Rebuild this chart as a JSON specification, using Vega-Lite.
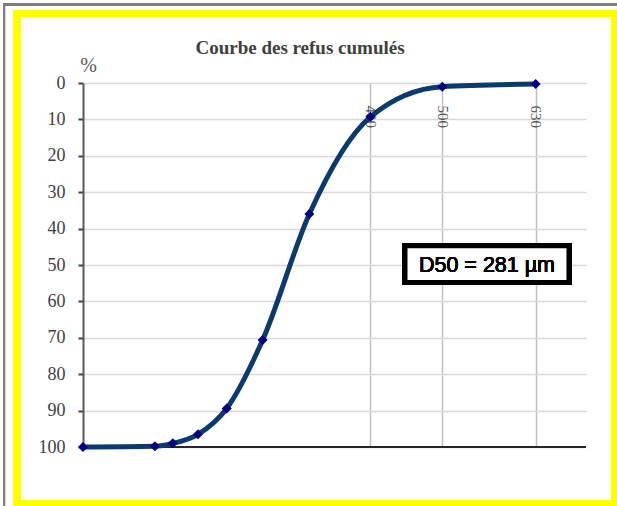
{
  "$schema": "https://vega.github.io/schema/vega-lite/v6.json",
  "width": 503,
  "height": 364,
  "autosize": {"type": "none"},
  "padding": {"left": 83, "top": 83, "right": 31, "bottom": 59},
  "background": "white",
  "config": {
    "view": {"stroke": null}
  },
  "resolve": {"axis": {"x": "independent", "y": "independent"}},
  "data": {
    "values": [
      {"d": 0, "r": 100},
      {"d": 100, "r": 99.8},
      {"d": 125, "r": 99.0},
      {"d": 160, "r": 96.5},
      {"d": 200, "r": 89.4},
      {"d": 250, "r": 70.6},
      {"d": 315, "r": 36.0},
      {"d": 400, "r": 9.3},
      {"d": 500, "r": 1.0},
      {"d": 630, "r": 0.3}
    ]
  },
  "layer": [
    {
      "mark": {"type": "rect", "fill": null, "fillOpacity": 0, "stroke": "#7f7f7f", "strokeWidth": 2},
      "encoding": {
        "x": {
          "datum": -109.9,
          "type": "quantitative",
          "scale": {"domain": [0, 700], "nice": false, "zero": false},
          "axis": {
            "orient": "top",
            "values": [400, 500, 630],
            "grid": true,
            "gridColor": "#bfbfbf",
            "gridWidth": 1.5,
            "domain": false,
            "ticks": false,
            "tickSize": 0,
            "labelAngle": 90,
            "labelAlign": "left",
            "labelBaseline": "middle",
            "labelPadding": -22,
            "labelFont": "Liberation Serif",
            "labelFontSize": 15,
            "labelColor": "#595959",
            "labelFlush": false,
            "labelOverlap": false,
            "title": "Courbe des refus cumulés",
            "titleX": 216.5,
            "titleY": -30,
            "titleAngle": 0,
            "titleAlign": "center",
            "titleBaseline": "alphabetic",
            "titleFont": "Liberation Serif",
            "titleFontSize": 19,
            "titleFontWeight": "bold",
            "titleColor": "#404040"
          }
        },
        "x2": {"datum": 1000},
        "y": {
          "datum": -21.6,
          "type": "quantitative",
          "scale": {"domain": [0, 100], "reverse": true, "nice": false, "zero": false},
          "axis": {
            "orient": "left",
            "values": [0, 10, 20, 30, 40, 50, 60, 70, 80, 90, 100],
            "grid": true,
            "gridColor": "#d9d9d9",
            "gridWidth": 1.5,
            "domain": true,
            "domainColor": "#595959",
            "domainWidth": 2,
            "ticks": true,
            "tickColor": "#404040",
            "tickSize": 5,
            "tickWidth": 2,
            "labelFont": "Liberation Serif",
            "labelFontSize": 18,
            "labelColor": "#404040",
            "labelPadding": 13,
            "labelOverlap": false,
            "labelFlush": false,
            "title": "%",
            "titleAngle": 0,
            "titleX": 5,
            "titleY": -18,
            "titleAlign": "center",
            "titleBaseline": "middle",
            "titleFont": "Liberation Serif",
            "titleFontSize": 20,
            "titleFontWeight": "normal",
            "titleColor": "#595959"
          }
        },
        "y2": {"datum": 200}
      }
    },
    {
      "mark": {"type": "rect", "fill": null, "fillOpacity": 0, "stroke": "#ffff00", "strokeWidth": 7},
      "encoding": {
        "x": {"datum": -91.9, "type": "quantitative", "axis": null},
        "x2": {"datum": 740.4},
        "y": {"datum": -19.1, "type": "quantitative", "axis": null},
        "y2": {"datum": 115.5}
      }
    },
    {
      "mark": {"type": "rule", "color": "#262626", "strokeWidth": 2},
      "encoding": {
        "x": {"datum": 0, "type": "quantitative", "axis": null},
        "x2": {"datum": 700},
        "y": {"datum": 100, "type": "quantitative", "axis": null}
      }
    },
    {
      "mark": {"type": "line", "interpolate": "monotone", "color": "#0b3b6e", "strokeWidth": 5},
      "encoding": {
        "x": {"field": "d", "type": "quantitative", "axis": null},
        "y": {"field": "r", "type": "quantitative", "axis": null}
      }
    },
    {
      "mark": {"type": "point", "shape": "diamond", "filled": true, "color": "#000080", "size": 100, "opacity": 1},
      "encoding": {
        "x": {"field": "d", "type": "quantitative", "axis": null},
        "y": {"field": "r", "type": "quantitative", "axis": null}
      }
    },
    {
      "mark": {"type": "rect", "fill": "white", "stroke": "black", "strokeWidth": 5},
      "encoding": {
        "x": {"datum": 448.1, "type": "quantitative", "axis": null},
        "x2": {"datum": 676.3},
        "y": {"datum": 44.7, "type": "quantitative", "axis": null},
        "y2": {"datum": 54.8}
      }
    },
    {
      "mark": {"type": "text", "text": "D50 = 281  µm", "font": "Liberation Sans", "fontSize": 21.5, "align": "center", "baseline": "alphabetic", "color": "black"},
      "encoding": {
        "x": {"datum": 562.2, "type": "quantitative", "axis": null},
        "y": {"datum": 51.8, "type": "quantitative", "axis": null}
      }
    }
  ]
}
